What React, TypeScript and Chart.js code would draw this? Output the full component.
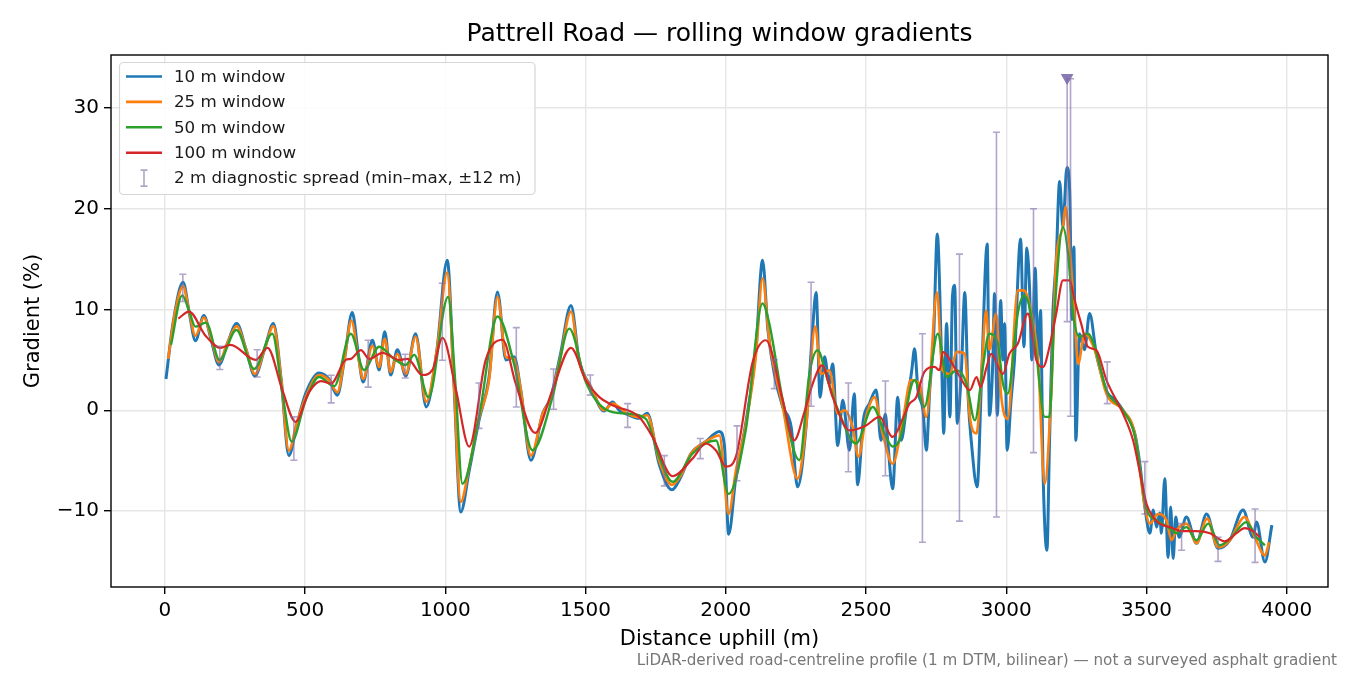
import { useEffect, useRef } from "react";
import { Chart, registerables } from "chart.js";

Chart.register(...registerables);

// [distance m, gradient %]
const win10: [number, number][] = [
  [4, 3.1], [30, 8.8], [65, 12.7], [88, 9.5], [109, 6.9], [139, 9.4], [165, 7.0], [193, 4.5],
  [225, 6.8], [256, 8.6], [290, 6.0], [321, 3.4], [355, 6.0], [387, 8.6], [415, 3.0], [442, -4.5],
  [470, -1.5], [502, 1.65], [550, 3.7], [585, 3.1], [615, 1.5], [640, 5.0], [668, 9.7], [690, 5.5],
  [707, 2.8], [740, 6.95], [764, 4.0], [784, 7.8], [805, 3.5], [829, 6.0], [859, 3.4], [894, 7.6],
  [932, 0.33], [970, 6.0], [1007, 14.9], [1030, 3.0], [1055, -10.1], [1085, -6.0], [1120, -1.0],
  [1156, 3.3], [1186, 11.75], [1216, 5.0], [1245, 5.3], [1269, 2.0], [1305, -4.96], [1347, -0.33],
  [1376, 1.3], [1410, 5.5], [1448, 10.4], [1477, 5.0], [1519, 2.3], [1566, -0.07], [1596, 0.83],
  [1620, 0.0], [1649, -0.4], [1691, -0.8], [1720, -0.3], [1762, -5.3], [1808, -7.9], [1840, -6.6],
  [1876, -4.3], [1929, -3.1], [1977, -2.1], [1995, -3.5], [2010, -12.3], [2036, -6.6], [2071, -1.3],
  [2107, 5.96], [2131, 14.9], [2150, 8.0], [2173, 3.6], [2203, 0.33], [2233, -1.65], [2256, -7.6],
  [2286, -1.65], [2307, 6.95], [2322, 11.7], [2336, 1.3], [2352, 5.3], [2369, 2.65], [2381, 4.6],
  [2399, -3.5], [2417, 1.0], [2441, -3.97], [2458, 1.65], [2470, -7.4], [2490, -1.0], [2512, 0.66],
  [2536, 2.0], [2553, -2.98], [2569, -0.4], [2577, -2.98], [2595, -7.8], [2613, 1.3], [2625, -2.98],
  [2643, 0], [2663, 3.97], [2673, 6.1], [2685, 2.0], [2703, 0], [2715, -3.97], [2727, 2.0],
  [2741, 7.3], [2754, 17.5], [2769, 5.3], [2777, -2.3], [2787, 8.6], [2799, -0.66], [2808, 11.25],
  [2816, 12.4], [2825, -1.3], [2840, 3.97], [2852, 11.7], [2864, 1.3], [2876, -3.3], [2896, -7.6],
  [2912, 3.3], [2932, 16.5], [2940, -0.5], [2952, 4.9], [2958, 11.6], [2968, -0.5], [2980, 10.9],
  [2988, 5.0], [2994, 8.6], [3003, -3.97], [3017, 1.0], [3029, 4.96], [3051, 17.0], [3063, 6.3],
  [3073, 16.1], [3083, 12.1], [3091, 5.0], [3103, 14.1], [3113, 5.0], [3122, 9.9], [3131, -5.96],
  [3145, -13.9], [3154, -3.3], [3166, 9.6], [3178, 14.9], [3190, 22.7], [3202, 18.2], [3216, 24.1],
  [3226, 21.8], [3234, 9.0], [3241, 16.2], [3248, -2.98], [3261, 7.6], [3279, 6.0], [3297, 9.6],
  [3321, 5.6], [3339, 3.6], [3357, 1.9], [3390, 1.0], [3416, 0.0], [3458, -2.3], [3476, -5.3],
  [3494, -9.6], [3512, -12.2], [3524, -9.9], [3536, -11.6], [3547, -10.2], [3553, -12.2],
  [3565, -6.8], [3577, -14.6], [3586, -9.6], [3595, -14.7], [3604, -10.6], [3616, -12.6],
  [3642, -10.6], [3678, -13.2], [3714, -10.3], [3755, -13.7], [3797, -12.9], [3844, -9.9],
  [3880, -12.6], [3892, -11.1], [3922, -15.05], [3947, -11.4],
];

const win25: [number, number][] = [
  [12, 5.1], [35, 9.5], [65, 12.3], [88, 9.6], [109, 7.4], [139, 9.2], [165, 7.2], [193, 4.8],
  [225, 6.8], [256, 8.35], [290, 6.0], [321, 3.6], [355, 6.0], [387, 8.35], [415, 3.0], [442, -4.0],
  [470, -1.3], [502, 1.3], [550, 3.5], [585, 3.0], [615, 1.8], [640, 5.0], [665, 8.9], [690, 5.2],
  [707, 3.1], [740, 6.4], [764, 4.3], [784, 7.1], [805, 3.8], [829, 5.6], [859, 3.6], [894, 7.3],
  [932, 0.83], [970, 6.0], [1007, 13.7], [1030, 3.0], [1055, -9.1], [1085, -5.6], [1120, -0.8],
  [1156, 3.0], [1186, 11.25], [1216, 5.3], [1245, 5.1], [1269, 2.0], [1305, -4.5], [1347, -0.33],
  [1376, 1.2], [1410, 5.2], [1448, 9.8], [1477, 4.8], [1519, 2.3], [1566, 0.0], [1596, 0.66],
  [1649, -0.33], [1691, -0.7], [1720, -0.5], [1762, -4.96], [1808, -7.4], [1840, -6.45],
  [1876, -4.3], [1929, -3.1], [1977, -2.5], [2010, -10.3], [2036, -5.96], [2071, -1.5], [2107, 5.3],
  [2131, 13.1], [2155, 6.95], [2203, 0.33], [2256, -6.8], [2286, -1.65], [2319, 8.3], [2339, 3.6],
  [2369, 3.97], [2399, -0.33], [2423, 0], [2452, -1.65], [2473, -4.6], [2500, -0.66], [2530, 1.3],
  [2559, -2.3], [2595, -5.3], [2631, -1.0], [2660, 3.0], [2690, 2.65], [2715, -0.66], [2753, 11.7],
  [2772, 3.97], [2799, 3.6], [2823, 5.8], [2852, 5.6], [2870, -0.66], [2894, -2.3], [2912, 3.97],
  [2928, 9.9], [2940, 6.0], [2964, 9.6], [2981, 1.65], [3005, -0.83], [3041, 11.9], [3063, 11.9],
  [3089, 9.6], [3113, 5.0], [3137, -7.3], [3160, 1.65], [3178, 14.9], [3202, 18.2], [3211, 20.2],
  [3226, 16.2], [3244, 9.0], [3256, 4.6], [3279, 7.6], [3315, 6.0], [3357, 1.65], [3416, 0.0],
  [3458, -2.3], [3494, -9.6], [3512, -11.25], [3541, -10.3], [3571, -10.9], [3589, -12.9],
  [3607, -11.9], [3642, -11.25], [3678, -13.2], [3716, -10.75], [3755, -13.6], [3797, -12.9],
  [3850, -10.6], [3886, -12.6], [3922, -14.4], [3937, -13.1],
];

const win50: [number, number][] = [
  [22, 6.5], [62, 11.4], [85, 10.0], [109, 8.3], [147, 8.7], [195, 5.0], [255, 7.97], [318, 4.1],
  [383, 7.6], [420, 1.5], [452, -3.1], [502, 1.0], [550, 3.3], [604, 2.4], [663, 7.6], [710, 4.0],
  [764, 6.3], [817, 5.1], [859, 4.5], [889, 5.5], [940, 1.3], [1010, 11.25], [1035, 3.0],
  [1061, -7.3], [1120, -0.66], [1186, 9.3], [1245, 4.6], [1311, -3.97], [1382, 1.3], [1442, 8.1],
  [1501, 2.8], [1572, 0.07], [1643, -0.33], [1714, -0.83], [1762, -4.6], [1810, -7.1], [1881, -4.3],
  [1965, -3.0], [2010, -8.3], [2071, -1.98], [2131, 10.6], [2155, 8.6], [2203, 1.0], [2262, -4.96],
  [2298, 3.6], [2327, 5.96], [2363, 3.0], [2405, -0.33], [2464, -3.3], [2524, 0.33], [2571, -2.65],
  [2595, -3.6], [2619, -2.98], [2673, 3.0], [2708, 0.33], [2756, 7.6], [2787, 3.3], [2823, 3.97],
  [2858, 2.65], [2888, -1.0], [2918, 4.6], [2939, 7.6], [2970, 6.6], [2988, 2.65], [3005, 1.65],
  [3041, 9.6], [3063, 11.4], [3083, 10.2], [3107, 5.6], [3137, -0.66], [3154, -0.66], [3172, 9.6],
  [3202, 18.2], [3220, 15.6], [3238, 9.6], [3261, 7.3], [3291, 7.6], [3315, 6.3], [3357, 2.0],
  [3416, 0.0], [3458, -2.5], [3500, -9.8], [3536, -10.9], [3577, -11.6], [3607, -12.2],
  [3642, -11.6], [3678, -12.9], [3720, -11.25], [3761, -13.4], [3803, -12.6], [3856, -11.1],
  [3892, -12.6], [3922, -13.4],
];

const win100: [number, number][] = [
  [48, 9.1], [86, 9.8], [145, 7.4], [199, 6.2], [234, 6.5], [324, 5.0], [366, 6.2], [419, 2.0],
  [466, -1.15], [514, 1.8], [556, 2.9], [592, 2.65], [645, 5.0], [663, 5.1], [699, 5.96],
  [729, 5.1], [776, 5.7], [836, 5.0], [865, 5.1], [918, 3.5], [954, 4.0], [990, 7.2], [1038, 2.0],
  [1085, -3.6], [1144, 5.0], [1204, 7.0], [1251, 2.65], [1320, -2.25], [1382, 2.0], [1448, 6.2],
  [1501, 2.98], [1549, 1.3], [1596, 0.5], [1691, -0.66], [1739, -2.65], [1810, -6.55],
  [1881, -4.8], [1929, -3.3], [1965, -4.0], [2001, -5.6], [2036, -4.6], [2096, 4.8], [2143, 6.95],
  [2203, 1.0], [2244, -2.98], [2280, -0.2], [2310, 2.65], [2343, 4.46], [2381, 1.3], [2441, -2.0],
  [2500, -1.5], [2548, -0.66], [2595, -2.65], [2631, -0.83], [2655, 0.66], [2679, 1.3], [2708, 3.8],
  [2744, 4.3], [2762, 3.97], [2774, 5.8], [2799, 5.0], [2835, 3.3], [2870, 2.0], [2894, 3.3],
  [2908, 2.3], [2930, 4.3], [2946, 5.6], [2988, 3.6], [3011, 5.6], [3041, 6.6], [3077, 9.6],
  [3107, 5.0], [3131, 4.3], [3154, 6.3], [3178, 9.6], [3202, 12.9], [3226, 12.9], [3244, 10.9],
  [3267, 8.6], [3291, 6.3], [3321, 5.96], [3357, 3.0], [3416, -0.33], [3452, -2.98], [3482, -6.95],
  [3500, -9.3], [3524, -10.6], [3547, -11.25], [3583, -11.6], [3630, -12.0], [3678, -12.0],
  [3726, -12.2], [3779, -13.0], [3821, -12.2], [3850, -11.7], [3880, -12.0], [3904, -12.6],
];

// 2 m diagnostic spread, min–max over ±12 m
const spreadAt = [
  64, 196, 329, 460, 593, 725, 857, 989, 1120, 1253, 1386, 1517, 1650, 1781, 1909, 2040, 2173,
  2304, 2437, 2569, 2701, 2833, 2965, 3097, 3217, 3229, 3360, 3494, 3625, 3755, 3887,
];
const spreadLo = [
  10.8, 4.05, 3.3, -4.96, 0.73, 2.3, 3.2, 4.96, -1.8, 0.33, 0.1, 1.5, -1.7, -7.5, -4.8, -7.0, 2.15,
  0.4, -6.1, -6.5, -13.1, -11.0, -10.6, -4.2, 8.8, -0.6, 0.66, -10.3, -13.9, -15.0, -15.1,
];
const spreadHi = [
  13.5, 6.35, 6.0, -0.66, 3.47, 6.95, 5.56, 12.6, 2.7, 8.2, 4.1, 3.5, 0.66, -4.5, -2.8, -1.55, 5.0,
  12.7, 2.7, 2.9, 7.6, 15.5, 27.6, 20.0, 33.0, 32.9, 4.8, -5.1, -11.25, -12.6, -9.8,
];
// bar whose top runs off the plotted range, marked with a triangle
const clippedAt = 3217;
const clippedTop = 33.0;

const xTicks = [0, 500, 1000, 1500, 2000, 2500, 3000, 3500, 4000];
const yTicks = [-10, 0, 10, 20, 30];

const FONT = '"DejaVu Sans", "Liberation Sans", sans-serif';
const SPREAD = "rgba(125, 105, 165, 0.6)";
const series = [
  { label: "10 m window", color: "#1f77b4", width: 3, pts: win10 },
  { label: "25 m window", color: "#ff7f0e", width: 2.6, pts: win25 },
  { label: "50 m window", color: "#2ca02c", width: 2.4, pts: win50 },
  { label: "100 m window", color: "#d62728", width: 2.2, pts: win100 },
];

const decor = {
  id: "decor",
  afterDatasetsDraw(chart: any) {
    const { ctx, chartArea: a, scales } = chart;
    const x = scales.x;
    const y = scales.y;
    ctx.save();
    ctx.beginPath();
    ctx.rect(a.left, a.top, a.right - a.left, a.bottom - a.top);
    ctx.clip();
    ctx.strokeStyle = SPREAD;
    ctx.lineWidth = 1.6;
    spreadAt.forEach((m, i) => {
      const px = x.getPixelForValue(m);
      const t = y.getPixelForValue(spreadHi[i]);
      const b = y.getPixelForValue(spreadLo[i]);
      ctx.beginPath();
      ctx.moveTo(px, t);
      ctx.lineTo(px, b);
      ctx.moveTo(px - 3.5, b);
      ctx.lineTo(px + 3.5, b);
      if (m !== clippedAt) {
        ctx.moveTo(px - 3.5, t);
        ctx.lineTo(px + 3.5, t);
      }
      ctx.stroke();
    });
    ctx.restore();
  },
  afterDraw(chart: any) {
    const { ctx, chartArea: a } = chart;
    ctx.save();
    // frame
    ctx.strokeStyle = "#000";
    ctx.lineWidth = 1.4;
    ctx.strokeRect(a.left, a.top, a.right - a.left, a.bottom - a.top);

    const cx = (a.left + a.right) / 2;
    ctx.fillStyle = "#000";
    ctx.textBaseline = "middle";
    ctx.textAlign = "center";
    ctx.font = `25px ${FONT}`;
    ctx.fillText("Pattrell Road \u2014 rolling window gradients", cx, 34);
    ctx.font = `21px ${FONT}`;
    ctx.fillText("Distance uphill (m)", cx, 640);
    ctx.save();
    ctx.translate(34, (a.top + a.bottom) / 2);
    ctx.rotate(-Math.PI / 2);
    ctx.fillText("Gradient (%)", 0, 0);
    ctx.restore();

    ctx.textAlign = "right";
    ctx.fillStyle = "#777";
    ctx.font = `15.2px ${FONT}`;
    ctx.fillText(
      "LiDAR-derived road-centreline profile (1 m DTM, bilinear) \u2014 not a surveyed asphalt gradient",
      1337,
      661
    );

    // legend
    const lx = 119.5, ly = 62.5, lw = 415.5, lh = 132;
    ctx.beginPath();
    ctx.roundRect(lx, ly, lw, lh, 4);
    ctx.fillStyle = "rgba(255,255,255,0.85)";
    ctx.fill();
    ctx.strokeStyle = "#d6d6d6";
    ctx.lineWidth = 1.2;
    ctx.stroke();
    ctx.textAlign = "left";
    ctx.font = `16.7px ${FONT}`;
    const rows = [...series.map((s) => s.label), "2 m diagnostic spread (min\u2013max, \u00b112 m)"];
    rows.forEach((txt, i) => {
      const ry = 76.5 + i * 25.4;
      if (i < series.length) {
        ctx.strokeStyle = series[i].color;
        ctx.lineWidth = 2.6;
        ctx.beginPath();
        ctx.moveTo(126, ry);
        ctx.lineTo(162, ry);
        ctx.stroke();
      } else {
        ctx.strokeStyle = SPREAD;
        ctx.lineWidth = 1.6;
        ctx.beginPath();
        ctx.moveTo(144, ry - 8);
        ctx.lineTo(144, ry + 8);
        ctx.moveTo(140.5, ry - 8);
        ctx.lineTo(147.5, ry - 8);
        ctx.moveTo(140.5, ry + 8);
        ctx.lineTo(147.5, ry + 8);
        ctx.stroke();
      }
      ctx.fillStyle = "#1a1a1a";
      ctx.fillText(txt, 174, ry + 1);
    });
    ctx.restore();
  },
};

export default function App() {
  const canvasRef = useRef<HTMLCanvasElement | null>(null);

  useEffect(() => {
    document.body.style.margin = "0";
    if (!canvasRef.current) return;

    const lineSets = series.map((s, i) => ({
      type: "line" as const,
      label: s.label,
      data: s.pts.map(([m, g]) => ({ x: m, y: g })),
      borderColor: s.color,
      backgroundColor: s.color,
      borderWidth: s.width,
      pointRadius: 0,
      cubicInterpolationMode: "monotone" as const,
      order: series.length - i,
      clip: 0,
    }));

    const chart = new Chart(canvasRef.current, {
      type: "line",
      data: {
        datasets: [
          ...lineSets,
          {
            type: "scatter" as const,
            label: "clipped",
            data: [{ x: clippedAt, y: clippedTop }],
            pointStyle: "triangle",
            rotation: 180,
            pointRadius: 6.5,
            backgroundColor: "#8a7bb2",
            borderColor: "#8a7bb2",
            borderWidth: 1,
            order: 0,
          },
        ] as any,
      },
      options: {
        animation: false,
        responsive: false,
        events: [],
        layout: { padding: { left: 0, right: 22, top: 55, bottom: 0 } },
        plugins: { legend: { display: false }, tooltip: { enabled: false }, title: { display: false } },
        scales: {
          x: {
            type: "linear",
            min: -192,
            max: 4147,
            afterFit: (s: any) => {
              s.height = 88;
            },
            afterBuildTicks: (s: any) => {
              s.ticks = xTicks.map((v) => ({ value: v }));
            },
            ticks: {
              color: "#000",
              font: { family: FONT, size: 20 },
              padding: 5,
              maxRotation: 0,
              autoSkip: false,
              callback: (v: any) => String(v),
            },
            grid: { color: "#e6e6e6", lineWidth: 1.4, tickColor: "#000", tickWidth: 1.4, tickLength: 7 },
            border: { display: false },
          },
          y: {
            type: "linear",
            min: -17.54,
            max: 35.26,
            afterFit: (s: any) => {
              s.width = 111;
            },
            afterBuildTicks: (s: any) => {
              s.ticks = yTicks.map((v) => ({ value: v }));
            },
            ticks: {
              color: "#000",
              font: { family: FONT, size: 20 },
              padding: 5,
              autoSkip: false,
              callback: (v: any) => (v < 0 ? "\u2212" + Math.abs(v) : String(v)),
            },
            grid: { color: "#e6e6e6", lineWidth: 1.4, tickColor: "#000", tickWidth: 1.4, tickLength: 7 },
            border: { display: false },
          },
        },
      },
      plugins: [decor],
    });

    return () => chart.destroy();
  }, []);

  return (
    <div style={{ width: 1350, height: 675, background: "#fff" }}>
      <canvas ref={canvasRef} width={1350} height={675} style={{ display: "block" }} />
    </div>
  );
}
